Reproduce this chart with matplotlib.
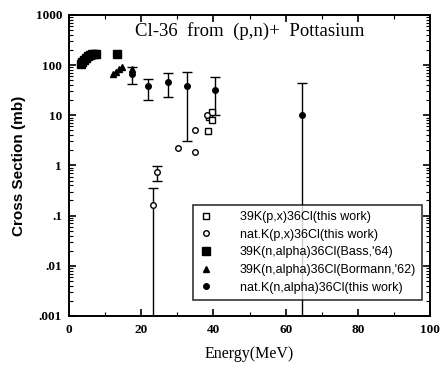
import numpy as np
import matplotlib
matplotlib.use("Agg")
import matplotlib.pyplot as plt
from matplotlib.ticker import FixedLocator, FixedFormatter, LogLocator, MultipleLocator

# 39K(n,alpha)36Cl, Bass '64
bass_e = [3.2, 3.7, 4.2, 4.7, 5.2, 5.8, 6.4, 7.0, 7.6, 13.3]
bass_y = [105, 115, 128, 140, 150, 160, 165, 168, 170, 170]

# 39K(n,alpha)36Cl, Bormann '62
borm_e = [12.2, 13.0, 13.8, 14.6, 17.4]
borm_y = [65, 72, 82, 92, 85]

# natK(n,alpha)36Cl, this work (with error bars)
natn_e = [17.5, 21.9, 27.5, 32.6, 40.3, 64.6]
natn_y = [65, 39, 45, 39, 32, 10]
natn_lo = [42, 20, 23, 3.0, 10, 0.0003]
natn_hi = [91, 54, 68, 72, 57, 43]

# 39K(p,x)36Cl, this work
k39p_e = [38.6, 38.8, 39.6, 39.5]
k39p_y = [4.8, 9.4, 11.5, 8.0]

# natK(p,x)36Cl, this work
natp_e = [23.3, 24.3, 30.3, 34.9, 34.9, 38.1]
natp_y = [0.16, 0.74, 2.25, 1.84, 5.1, 10]
natp_lo = [0.0003, 0.50, np.nan, np.nan, np.nan, np.nan]
natp_hi = [0.35, 0.96, np.nan, np.nan, np.nan, np.nan]

xticks = [0, 20, 40, 60, 80, 100]
yticks = [0.001, 0.01, 0.1, 1, 10, 100, 1000]
ytick_labels = [".001", ".01", ".1", "1", "10", "100", "1000"]

serif = "Liberation Serif"
sans = "Liberation Sans"

fig = plt.figure(figsize=(4.48, 3.73), dpi=100)
ax = fig.add_axes([0.154, 0.153, 0.806, 0.807])
ax.set_yscale("log")
ax.set_xlim(0, 100)
ax.set_ylim(0.001, 1000)

# error bars first, markers on top
natn_y_a = np.array(natn_y)
ax.errorbar(natn_e, natn_y,
            yerr=[natn_y_a - np.array(natn_lo), np.array(natn_hi) - natn_y_a],
            fmt="none", ecolor="black", elinewidth=1.0, capsize=3.5, capthick=1.0)
natp_y_a = np.array(natp_y)
has_err = ~np.isnan(np.array(natp_lo))
ax.errorbar(np.array(natp_e)[has_err], natp_y_a[has_err],
            yerr=[natp_y_a[has_err] - np.array(natp_lo)[has_err],
                  np.array(natp_hi)[has_err] - natp_y_a[has_err]],
            fmt="none", ecolor="black", elinewidth=1.0, capsize=3.5, capthick=1.0)

ax.plot(k39p_e, k39p_y, ls="none", marker="s", ms=4, mfc="white", mec="black", mew=1.0,
        label="39K(p,x)36Cl(this work)")
ax.plot(natp_e, natp_y, ls="none", marker="o", ms=4, mfc="white", mec="black", mew=1.0,
        label="nat.K(p,x)36Cl(this work)")
ax.plot(bass_e, bass_y, ls="none", marker="s", ms=5.5, color="black",
        label="39K(n,alpha)36Cl(Bass,'64)")
ax.plot(borm_e, borm_y, ls="none", marker="^", ms=4.5, color="black",
        label="39K(n,alpha)36Cl(Bormann,'62)")
ax.plot(natn_e, natn_y, ls="none", marker="o", ms=4, color="black",
        label="nat.K(n,alpha)36Cl(this work)")

# axes frame and ticks
for s in ax.spines.values():
    s.set_linewidth(1.4)
ax.xaxis.set_major_locator(FixedLocator(xticks))
ax.xaxis.set_major_formatter(FixedFormatter([str(t) for t in xticks]))
ax.xaxis.set_minor_locator(MultipleLocator(10))
ax.yaxis.set_major_locator(FixedLocator(yticks))
ax.yaxis.set_major_formatter(FixedFormatter(ytick_labels))
ax.yaxis.set_minor_locator(LogLocator(base=10, subs=np.arange(2, 10)))
ax.yaxis.set_minor_formatter(FixedFormatter([]))
ax.tick_params(which="both", direction="in", top=True, right=True)
ax.tick_params(which="major", length=5, width=1.2)
ax.tick_params(which="minor", length=3, width=0.8)
for lab in ax.get_xticklabels() + ax.get_yticklabels():
    lab.set_fontfamily(serif)
    lab.set_fontweight("bold")
    lab.set_fontsize(9.5)
ax.tick_params(axis="x", pad=6)
ax.tick_params(axis="y", pad=5)

ax.set_xlabel("Energy(MeV)", fontfamily=serif, fontsize=11.5, labelpad=7)
ax.set_ylabel("Cross Section (mb)", fontfamily=sans, fontsize=11, fontweight="bold", labelpad=7)
ax.text(0.5, 0.945, "Cl-36  from  (p,n)+  Pottasium", transform=ax.transAxes,
        ha="center", va="center", fontfamily=serif, fontsize=13.5)

leg = ax.legend(loc="lower right", bbox_to_anchor=(0.978, 0.053), frameon=True, fancybox=False,
                edgecolor="black", prop={"family": sans, "size": 9}, handlelength=1.0,
                handletextpad=2.2, borderpad=0.5, labelspacing=0.45, borderaxespad=0)
leg.get_frame().set_linewidth(1.2)

fig.savefig("out.png", dpi=100)
